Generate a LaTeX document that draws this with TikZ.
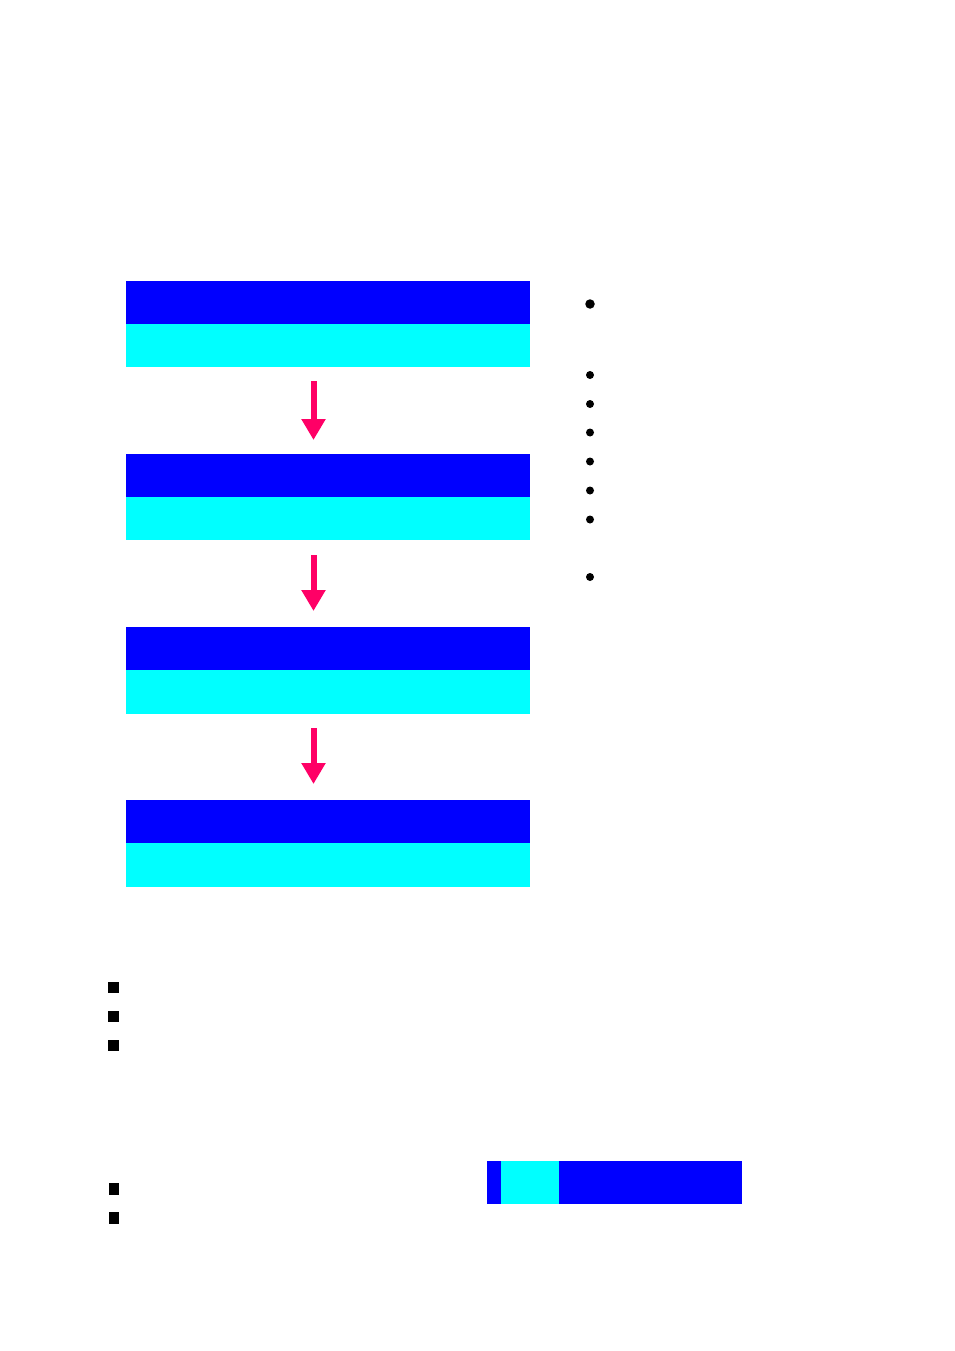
\documentclass[tikz,border=0pt]{standalone}
\usetikzlibrary{arrows.meta}
\definecolor{hdrblue}{RGB}{0,0,255}
\definecolor{bodycyan}{RGB}{0,255,255}
\definecolor{flowpink}{RGB}{255,0,102}
\tikzset{
  band/.style={rectangle, inner sep=0pt, outer sep=0pt, minimum width=404pt, minimum height=43pt, anchor=north west},
  hdr/.style={band, fill=hdrblue},
  bodyband/.style={band, fill=bodycyan},
  flowarrow/.style={draw=flowpink, line width=6pt, -{Triangle[length=21pt,width=23pt,fill=flowpink]}, shorten <=14pt, shorten >=14pt},
  bigdot/.style={circle, fill=black, inner sep=0pt, minimum size=9.5pt},
  smalldot/.style={circle, fill=black, inner sep=0pt, minimum size=8pt},
  sqbullet/.style={rectangle, fill=black, inner sep=0pt, minimum width=11pt, minimum height=11pt},
  sqbulletn/.style={rectangle, fill=black, inner sep=0pt, minimum width=10pt, minimum height=12pt},
}
\begin{document}
\begin{tikzpicture}[x=1pt,y=-1pt]
\useasboundingbox (0,0) rectangle (954,1351);
% stacked boxes
\node[hdr] (b1top) at (126,281) {};
\node[bodyband] (b1bot) at (126,324) {};
\node[hdr] (b2top) at (126,454) {};
\node[bodyband] (b2bot) at (126,497) {};
\node[hdr] (b3top) at (126,627) {};
\node[bodyband, minimum height=44pt] (b3bot) at (126,670) {};
\node[hdr] (b4top) at (126,800) {};
\node[bodyband, minimum height=44pt] (b4bot) at (126,843) {};
% arrows
\draw[flowarrow] ([xshift=-14.5pt]b1bot.south) -- ([xshift=-14.5pt]b2top.north);
\draw[flowarrow, shorten <=15pt, shorten >=16pt] ([xshift=-14.5pt]b2bot.south) -- ([xshift=-14.5pt]b3top.north);
\draw[flowarrow, shorten <=14pt, shorten >=16pt] ([xshift=-14.5pt]b3bot.south) -- ([xshift=-14.5pt]b4top.north);
% round bullets
\node[bigdot] (d1) at (590,304) {};
\node[smalldot] (d2) at (590,375) {};
\node[smalldot] (d3) at (590,404) {};
\node[smalldot] (d4) at (590,432.5) {};
\node[smalldot] (d5) at (590,461.5) {};
\node[smalldot] (d6) at (590,490.5) {};
\node[smalldot] (d7) at (590,519.5) {};
\node[smalldot] (d8) at (590,577) {};
% square bullets
\node[sqbullet] (s1) at (113.8,987.2) {};
\node[sqbullet] (s2) at (113.8,1016) {};
\node[sqbullet] (s3) at (113.8,1045) {};
\node[sqbulletn] (s4) at (113.5,1188.5) {};
\node[sqbulletn] (s5) at (113.5,1217.5) {};
% bottom bar
\node[rectangle, inner sep=0pt, fill=hdrblue, minimum width=14pt, minimum height=43pt, anchor=north west] (barA) at (487,1161) {};
\node[rectangle, inner sep=0pt, fill=bodycyan, minimum width=58pt, minimum height=43pt, anchor=north west] (barB) at (501,1161) {};
\node[rectangle, inner sep=0pt, fill=hdrblue, minimum width=183pt, minimum height=43pt, anchor=north west] (barC) at (559,1161) {};
\end{tikzpicture}
\end{document}
